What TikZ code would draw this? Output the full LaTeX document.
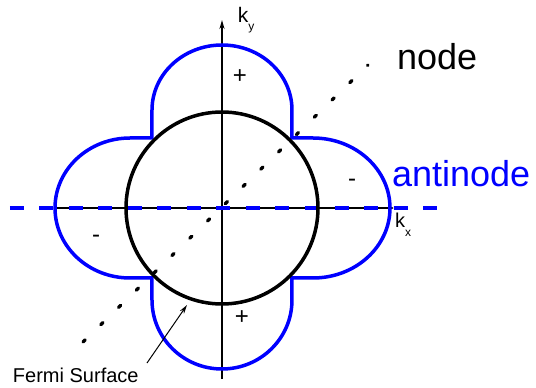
\documentclass[tikz,border=0pt]{standalone}
\usepackage{fontspec}
\setmainfont{Liberation Sans}
\usetikzlibrary{arrows.meta}
\definecolor{lobeblue}{RGB}{0,0,255}
\begin{document}
\begin{tikzpicture}[x=1pt,y=1pt,
  lobe/.style={draw=lobeblue,line width=3.5pt},
  fermiline/.style={draw=black,line width=3.5pt},
  axisline/.style={draw=black,line width=1.5pt},
  dashline/.style={draw=lobeblue,line width=3.2pt,dash pattern=on 14pt off 15.5pt},
  dotline/.style={draw=black,line width=3.3pt,line cap=round,dash pattern=on 3pt off 21.8pt},
  txt/.style={inner sep=0pt,outer sep=0pt},
  big/.style={txt,font=\fontsize{36}{36}\selectfont},
  mid/.style={txt,font=\fontsize{20}{20}\selectfont},
  sgn/.style={txt,font=\fontsize{24}{24}\selectfont}]
\useasboundingbox (-222,-180) rectangle (314,208);
% axes
\coordinate (yb) at (0,-171);
\coordinate (yt) at (0,188);
\coordinate (xl) at (-167,0);
\coordinate (xr) at (172,0);
\draw[axisline,-{Stealth[length=9pt,width=5pt]}] (yb) -- (yt);
\draw[axisline,-{Latex[length=3pt,width=3pt]}] (xl) -- (xr);
% blue dashed antinode line
\coordinate (dl) at (-212,0);
\coordinate (dr) at (216,0);
\draw[dashline] (dl) -- (dr);
% d-wave lobes
\draw[lobe] (-70,70) -- (-70,98) arc[start angle=180,end angle=0,x radius=70,y radius=65]
  -- (70,70) -- (91,70) arc[start angle=90,end angle=-90,x radius=77,y radius=70]
  -- (70,-70) -- (70,-92) arc[start angle=0,end angle=-180,x radius=70,y radius=69]
  -- (-70,-70) -- (-92,-70) arc[start angle=270,end angle=90,x radius=75,y radius=70]
  -- cycle;
% Fermi surface
\coordinate (c) at (0,0);
\draw[fermiline] (c) circle[radius=96];
% nodal line
\coordinate (nb) at (-139,-134);
\coordinate (nt) at (146,143);
\draw[dotline] (nb) -- (nt);
% labels
\node[big,anchor=base west] (node) at (175,138) {node};
\node[big,anchor=base west,text=lobeblue] (anti) at (170,21) {antinode};
\node[txt,anchor=base west] (ky) at (16,185) {\fontsize{21}{21}\selectfont k\raisebox{-8pt}{\fontsize{12}{12}\selectfont y}};
\node[txt,anchor=base west] (kx) at (173,-20) {\fontsize{20}{20}\selectfont k\raisebox{-9pt}{\fontsize{12}{12}\selectfont x}};
\node[mid,anchor=base west] (fs) at (-209,-174) {Fermi Surface};
\node[sgn] (p1) at (18,131) {+};
\node[sgn] (p2) at (20,-110) {+};
\node[sgn] (m1) at (-126,-31) {-};
\node[sgn] (m2) at (130,25) {-};
% Fermi surface arrow
\coordinate (fa) at (-75,-155);
\coordinate (fb) at (-35,-97);
\draw[line width=1pt,-{Stealth[length=9pt,width=5pt]}] (fa) -- (fb);
\end{tikzpicture}
\end{document}
